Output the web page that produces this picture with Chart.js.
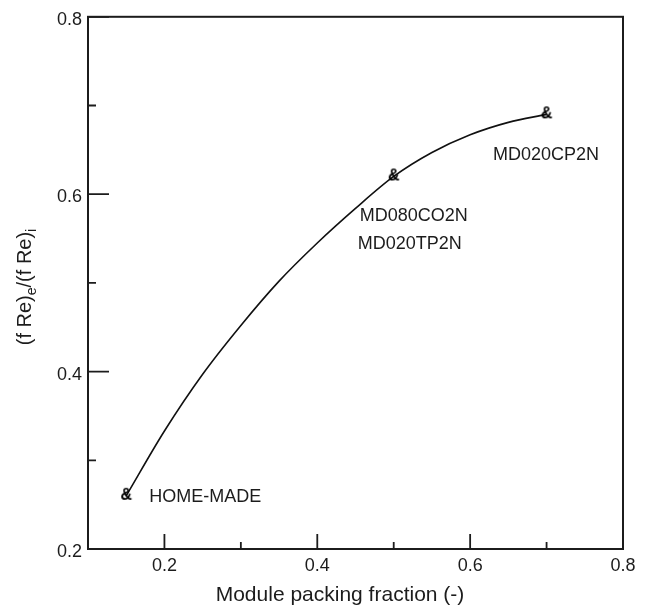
<!DOCTYPE html>
<html>
<head>
<meta charset="utf-8">
<script src="https://cdn.jsdelivr.net/npm/chart.js@4.4.1/dist/chart.umd.min.js"></script>
<style>
  html, body { margin: 0; padding: 0; background: #fff; }
  #wrap { width: 645px; height: 607px; }
</style>
</head>
<body>
<div id="wrap"><canvas id="chart" width="645" height="607"></canvas></div>
<script>
// measured modules: packing fraction vs (f Re)e/(f Re)i
const packing = [0.15, 0.5, 0.7];
const ratio = [0.26, 0.62, 0.69];

// trend line
const fitX = [0.15, 0.2, 0.25, 0.3, 0.35, 0.4, 0.45, 0.5, 0.55, 0.6, 0.65, 0.7];
const fitY = [0.26, 0.333, 0.397, 0.452, 0.502, 0.545, 0.584, 0.62, 0.647, 0.667, 0.681, 0.69];

// axis ticks
const xMajor = [0.2, 0.4, 0.6, 0.8];
const xMinor = [0.3, 0.5, 0.7];
const yMajor = [0.2, 0.4, 0.6, 0.8];
const yMinor = [0.3, 0.5, 0.7];

// module names, anchored at their left edge (data units)
const moduleLabels = [
    { text: 'HOME-MADE', x: 0.180, y: 0.259 },
    { text: 'MD080CO2N', x: 0.4556, y: 0.575 },
    { text: 'MD020TP2N', x: 0.4530, y: 0.5438 },
    { text: 'MD020CP2N', x: 0.630, y: 0.6436 }
];

const FONT = '"Liberation Sans", Arial, Helvetica, sans-serif';
const INK = '#1c1c1c';

// "&" glyph used as the point marker
function ampersand() {
    const c = document.createElement('canvas');
    c.width = 16;
    c.height = 18;
    const g = c.getContext('2d');
    g.font = 'bold 16px ' + FONT;
    g.fillStyle = '#000';
    g.textAlign = 'center';
    g.textBaseline = 'middle';
    g.fillText('&', 8, 9);
    return c;
}

function tickText(value) {
    const v = Math.round(value * 10) / 10;
    return xMajor.includes(v) || yMajor.includes(v) ? v.toFixed(1) : '';
}

// frame and inward ticks, titles and module names
const axisDecor = {
    id: 'axisDecor',
    beforeDatasetsDraw(chart) {
        const { ctx, chartArea: a, scales: { x, y } } = chart;
        ctx.save();
        ctx.strokeStyle = INK;
        ctx.lineWidth = 2;
        ctx.strokeRect(a.left, a.top, a.right - a.left, a.bottom - a.top);
        ctx.lineWidth = 1.8;
        ctx.beginPath();
        xMajor.forEach(v => { const p = x.getPixelForValue(v); ctx.moveTo(p, a.bottom); ctx.lineTo(p, a.bottom - 15); });
        xMinor.forEach(v => { const p = x.getPixelForValue(v); ctx.moveTo(p, a.bottom); ctx.lineTo(p, a.bottom - 7); });
        yMajor.forEach(v => { const p = y.getPixelForValue(v); ctx.moveTo(a.left, p); ctx.lineTo(a.left + 21, p); });
        yMinor.forEach(v => { const p = y.getPixelForValue(v); ctx.moveTo(a.left, p); ctx.lineTo(a.left + 8, p); });
        ctx.stroke();
        ctx.restore();
    },
    afterDraw(chart) {
        const { ctx, scales: { x, y } } = chart;
        ctx.save();
        ctx.fillStyle = INK;

        ctx.font = '18px ' + FONT;
        ctx.textAlign = 'left';
        ctx.textBaseline = 'middle';
        moduleLabels.forEach(l => ctx.fillText(l.text, x.getPixelForValue(l.x), y.getPixelForValue(l.y)));

        ctx.font = '21px ' + FONT;
        ctx.textAlign = 'center';
        ctx.fillText('Module packing fraction (-)', 340, 595);

        const parts = [
            { t: '(f Re)', size: 20, dy: 0 },
            { t: 'e', size: 14, dy: 5 },
            { t: '/(f Re)', size: 20, dy: 0 },
            { t: 'i', size: 14, dy: 5 }
        ];
        let total = 0;
        parts.forEach(p => { ctx.font = p.size + 'px ' + FONT; p.w = ctx.measureText(p.t).width; total += p.w; });
        ctx.translate(31, 287);
        ctx.rotate(-Math.PI / 2);
        ctx.textAlign = 'left';
        ctx.textBaseline = 'alphabetic';
        let cx = -total / 2;
        parts.forEach(p => {
            ctx.font = p.size + 'px ' + FONT;
            ctx.fillText(p.t, cx, p.dy);
            cx += p.w;
        });
        ctx.restore();
    }
};

new Chart(document.getElementById('chart'), {
    type: 'scatter',
    data: {
        datasets: [
            {
                data: packing.map((v, i) => ({ x: v, y: ratio[i] })),
                showLine: false,
                pointStyle: ampersand(),
                pointRadius: 8
            },
            {
                data: fitX.map((v, i) => ({ x: v, y: fitY[i] })),
                showLine: true,
                borderColor: '#111',
                borderWidth: 1.6,
                pointRadius: 0,
                cubicInterpolationMode: 'monotone',
                fill: false
            }
        ]
    },
    options: {
        responsive: false,
        animation: false,
        layout: { padding: { top: 16, right: 22, left: 0, bottom: 0 } },
        plugins: { legend: { display: false }, tooltip: { enabled: false } },
        scales: {
            x: {
                type: 'linear',
                min: 0.1,
                max: 0.8,
                border: { display: false },
                grid: { display: false, drawTicks: false },
                ticks: {
                    stepSize: 0.1,
                    padding: 6,
                    autoSkip: false,
                    maxRotation: 0,
                    color: INK,
                    font: { family: FONT, size: 18 },
                    callback: tickText
                },
                afterFit: s => { s.height = 58; }
            },
            y: {
                type: 'linear',
                min: 0.2,
                max: 0.8,
                border: { display: false },
                grid: { display: false, drawTicks: false },
                ticks: {
                    stepSize: 0.1,
                    padding: 6,
                    autoSkip: false,
                    labelOffset: 3,
                    color: INK,
                    font: { family: FONT, size: 18 },
                    callback: tickText
                },
                afterFit: s => { s.width = 88; }
            }
        }
    },
    plugins: [axisDecor]
});
</script>
</body>
</html>
